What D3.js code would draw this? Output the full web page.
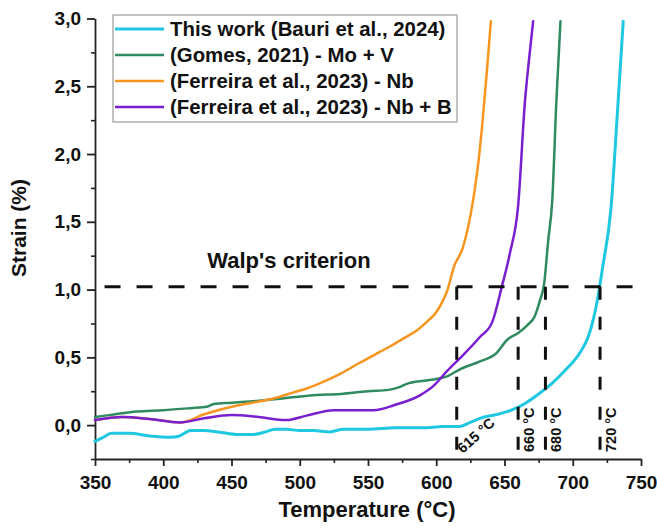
<!DOCTYPE html>
<html>
<head>
<meta charset="utf-8">
<script src="https://cdn.jsdelivr.net/npm/d3@7"></script>
<style>
  html, body { margin: 0; padding: 0; background: #fff; }
  svg { display: block; }
  text { font-family: "Liberation Sans", Arial, sans-serif; font-weight: bold; fill: #111; }
</style>
</head>
<body>
<svg id="chart" width="657" height="529"></svg>
<script>
// Dilatometric strain vs temperature curves
const thisWorkT = [350, 356, 362, 375, 390, 405, 412, 420, 430, 440, 455, 465, 475, 482, 490, 500, 510, 522, 532, 550, 570, 590, 605, 617, 625, 632, 645, 655, 665, 675, 685, 695, 705, 712, 718, 722, 728, 733, 737];
const thisWorkS = [-0.12, -0.09, -0.06, -0.06, -0.08, -0.09, -0.08, -0.04, -0.04, -0.05, -0.07, -0.07, -0.05, -0.03, -0.03, -0.04, -0.04, -0.05, -0.03, -0.03, -0.02, -0.02, -0.01, -0.01, 0.02, 0.05, 0.08, 0.11, 0.16, 0.23, 0.31, 0.41, 0.53, 0.67, 0.92, 1.17, 1.6, 2.35, 2.98];

const gomesT = [350, 365, 380, 400, 420, 432, 437, 450, 470, 490, 510, 530, 550, 565, 573, 580, 600, 608, 617, 632, 644, 652, 660, 667, 672, 676, 679, 682, 685, 688, 691];
const gomesS = [0.06, 0.08, 0.10, 0.11, 0.125, 0.135, 0.155, 0.165, 0.18, 0.20, 0.22, 0.23, 0.25, 0.26, 0.28, 0.31, 0.34, 0.36, 0.41, 0.47, 0.53, 0.63, 0.68, 0.74, 0.80, 0.92, 1.04, 1.36, 1.66, 2.39, 2.98];

const nbT = [350, 370, 390, 413, 430, 450, 465, 480, 495, 505, 515, 530, 544, 555, 566, 576, 586, 595, 599, 604, 608, 613, 619.5, 627, 631, 634, 637, 639, 640];
const nbS = [0.037, 0.06, 0.045, 0.02, 0.08, 0.135, 0.165, 0.195, 0.24, 0.27, 0.31, 0.38, 0.46, 0.52, 0.58, 0.64, 0.70, 0.78, 0.82, 0.90, 0.99, 1.17, 1.31, 1.66, 1.95, 2.25, 2.6, 2.85, 2.98];

const nbbT = [350, 370, 390, 412, 430, 450, 470, 490, 505, 525, 540, 554, 570, 588, 598, 608, 620, 632, 641, 648, 654, 660, 665, 668, 671];
const nbbS = [0.037, 0.06, 0.045, 0.02, 0.05, 0.074, 0.06, 0.037, 0.07, 0.11, 0.11, 0.11, 0.15, 0.22, 0.29, 0.40, 0.52, 0.65, 0.76, 1.02, 1.27, 1.62, 2.39, 2.7, 2.98];

const seriesNames = [
  "This work (Bauri et al., 2024)",
  "(Gomes, 2021) - Mo + V",
  "(Ferreira et al., 2023) - Nb",
  "(Ferreira et al., 2023) - Nb + B"
];
const seriesColors = ["#1fc8e0", "#2f8a60", "#f7951f", "#7a1fd0"];
const seriesWidths = [3, 2.5, 2.5, 2.5];

// Walp's criterion and the transformation temperatures read from it
const criterionStrain = 1.02;
const criterionT = [357, 754];
const transitionTemps = [615, 660, 680, 720];
const transitionLabels = ["615 °C", "660 °C", "680 °C", "720 °C"];

const xTicks = [350, 400, 450, 500, 550, 600, 650, 700, 750];
const xMinorTicks = [375, 425, 475, 525, 575, 625, 675, 725];
const yTicks = [0, 0.5, 1.0, 1.5, 2.0, 2.5, 3.0];
const yMinorTicks = [-0.25, 0.25, 0.75, 1.25, 1.75, 2.25, 2.75];

const svg = d3.select("#chart");
const plot = { left: 95, right: 641, top: 18.5, bottom: 459 };

const x = d3.scaleLinear().domain([350, 750]).range([plot.left, plot.right]);
const y = d3.scaleLinear().domain([-0.25, 3.0]).range([plot.bottom, plot.top]);

const fmtComma = d => d3.format(".1f")(d).replace(".", ",");

// minor ticks
svg.append("g")
  .attr("transform", `translate(0,${plot.bottom})`)
  .call(d3.axisBottom(x).tickValues(xMinorTicks).tickSize(4).tickFormat(""))
  .call(g => g.select(".domain").remove())
  .selectAll("line").attr("stroke", "#222").attr("stroke-width", 1.6);
svg.append("g")
  .attr("transform", `translate(${plot.left},0)`)
  .call(d3.axisLeft(y).tickValues(yMinorTicks).tickSize(4).tickFormat(""))
  .call(g => g.select(".domain").remove())
  .selectAll("line").attr("stroke", "#222").attr("stroke-width", 1.6);

// major axes
const xAxis = svg.append("g")
  .attr("transform", `translate(0,${plot.bottom})`)
  .call(d3.axisBottom(x).tickValues(xTicks).tickSize(7).tickSizeOuter(0).tickPadding(10).tickFormat(d3.format("d")));
const yAxis = svg.append("g")
  .attr("transform", `translate(${plot.left},0)`)
  .call(d3.axisLeft(y).tickValues(yTicks).tickSize(8).tickSizeOuter(0).tickPadding(6).tickFormat(fmtComma));
[xAxis, yAxis].forEach(ax => {
  ax.select(".domain").attr("stroke", "#222").attr("stroke-width", 1.8);
  ax.selectAll(".tick line").attr("stroke", "#222").attr("stroke-width", 1.8);
  ax.selectAll(".tick text")
    .attr("font-family", "Liberation Sans, Arial, sans-serif")
    .attr("font-weight", "bold").attr("font-size", 19).attr("fill", "#222");
});

// curves
const seriesData = [
  d3.zip(thisWorkT, thisWorkS),
  d3.zip(gomesT, gomesS),
  d3.zip(nbT, nbS),
  d3.zip(nbbT, nbbS)
];
const line = d3.line().x(d => x(d[0])).y(d => y(d[1])).curve(d3.curveMonotoneX);
seriesData.forEach((data, i) => {
  svg.append("path")
    .datum(data)
    .attr("fill", "none")
    .attr("stroke", seriesColors[i])
    .attr("stroke-width", seriesWidths[i])
    .attr("stroke-linejoin", "round")
    .attr("stroke-linecap", "round")
    .attr("d", line);
});

// Walp's criterion line
svg.append("line")
  .attr("x1", x(criterionT[0])).attr("x2", x(criterionT[1]))
  .attr("y1", y(criterionStrain)).attr("y2", y(criterionStrain))
  .attr("stroke", "#111").attr("stroke-width", 3)
  .attr("stroke-dasharray", "16,16");

svg.append("text")
  .attr("x", 289).attr("y", 268)
  .attr("text-anchor", "middle")
  .attr("font-size", 22)
  .text("Walp's criterion");

// vertical markers at the transformation temperatures
svg.selectAll("line.tt")
  .data(transitionTemps)
  .join("line")
  .attr("class", "tt")
  .attr("x1", d => x(d)).attr("x2", d => x(d))
  .attr("y1", y(criterionStrain)).attr("y2", plot.bottom)
  .attr("stroke", "#111").attr("stroke-width", 3)
  .attr("stroke-dasharray", "13,17");

transitionTemps.forEach((t, i) => {
  if (i === 0) {
    svg.append("text")
      .attr("transform", `translate(${x(t) + 6},${454}) rotate(-42)`)
      .attr("font-size", 14.5)
      .text(transitionLabels[i]);
  } else {
    svg.append("text")
      .attr("transform", `translate(${x(t) + 16},${452}) rotate(-90)`)
      .attr("font-size", 14.5)
      .text(transitionLabels[i]);
  }
});

// axis titles
svg.append("text")
  .attr("x", 367).attr("y", 517)
  .attr("text-anchor", "middle")
  .attr("font-size", 22)
  .text("Temperature (°C)");
svg.append("text")
  .attr("transform", `translate(26,228) rotate(-90)`)
  .attr("text-anchor", "middle")
  .attr("font-size", 21)
  .text("Strain (%)");

// legend
const legend = svg.append("g");
legend.append("rect")
  .attr("x", 113).attr("y", 15).attr("width", 344).attr("height", 107)
  .attr("fill", "#fff").attr("stroke", "#999").attr("stroke-width", 1.2);
const rowY = d3.scalePoint().domain(d3.range(seriesNames.length)).range([29, 107]);
seriesNames.forEach((name, i) => {
  legend.append("line")
    .attr("x1", 115).attr("x2", 164)
    .attr("y1", rowY(i)).attr("y2", rowY(i))
    .attr("stroke", seriesColors[i]).attr("stroke-width", seriesWidths[i]);
  legend.append("text")
    .attr("x", 170).attr("y", rowY(i)).attr("dy", "0.36em")
    .attr("font-size", 20.4)
    .text(name);
});
</script>
</body>
</html>
